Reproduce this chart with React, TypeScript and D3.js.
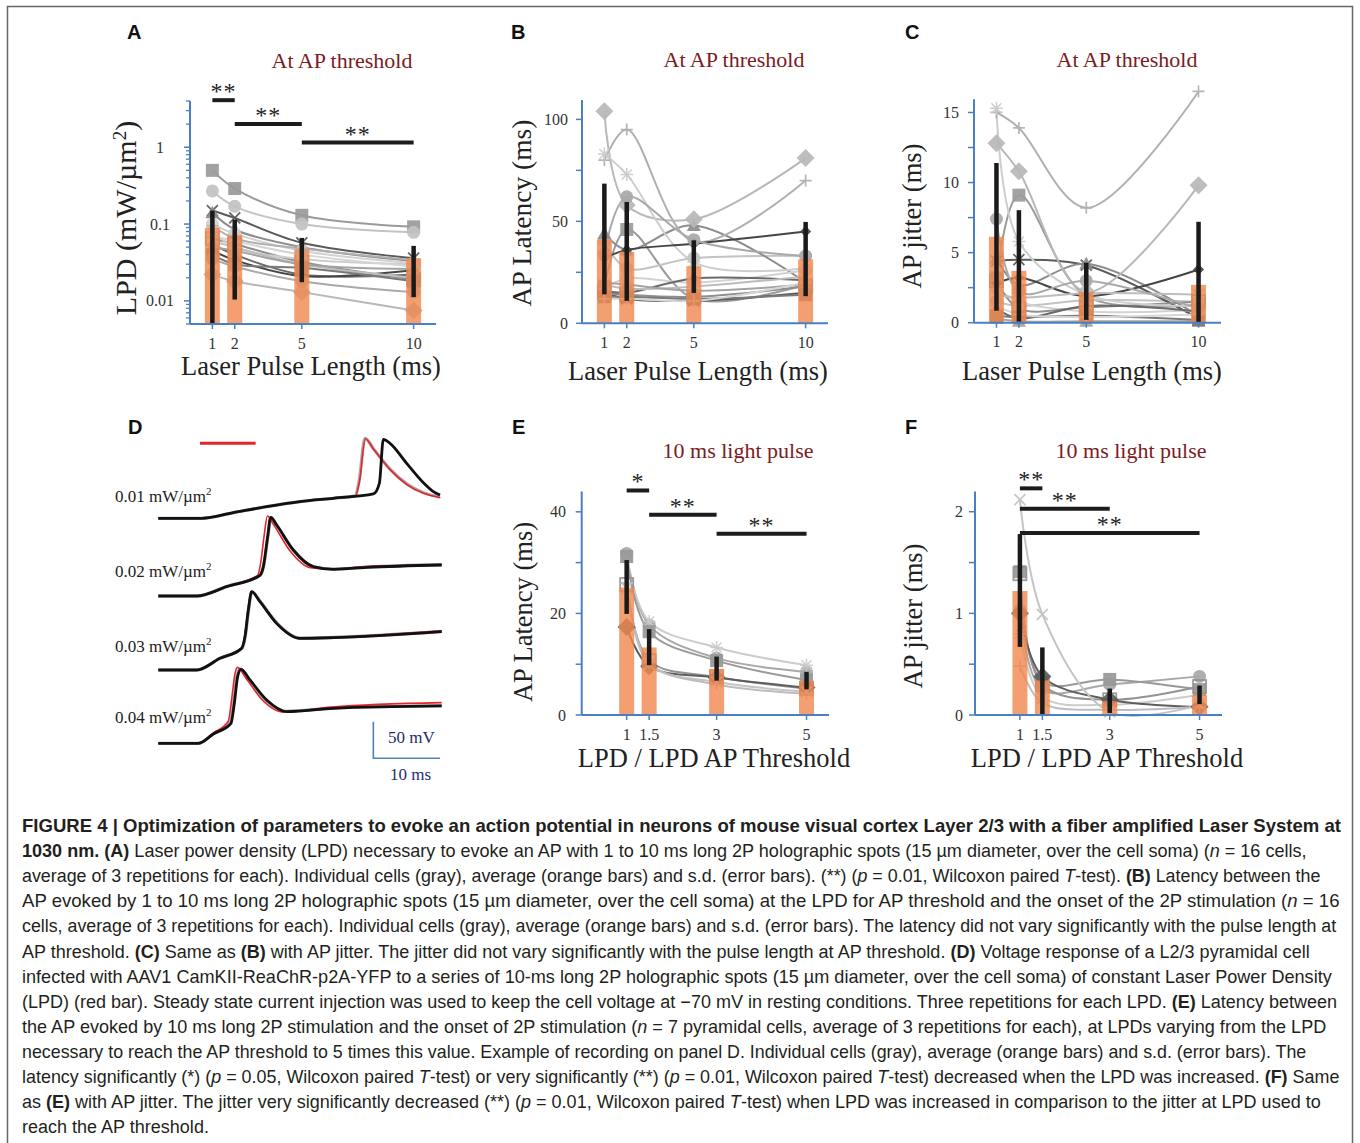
import React, { useLayoutEffect, useRef, useState } from 'react';
import * as d3 from 'd3';

const SERIF = '"Liberation Serif", "Times New Roman", serif';
const SANS = '"Liberation Sans", Arial, Helvetica, sans-serif';
const AXIS_BLUE = '#4a7fc1';
const BAR_ORANGE = '#f1874f';
const ERR_BLACK = '#1a1a1a';
const TITLE_RED = '#7b1b1e';
const TEXT = '#231f20';

// ===== categories =====
const pulseLengths = [1, 2, 5, 10];
const pulseTickLabels = ['1', '2', '5', '10'];
const lpdRatios = [1, 1.5, 3, 5];
const ratioTickLabels = ['1', '1.5', '3', '5'];

// ===== cell marker styles (16 cells, panels A-C) =====
const cellShapes16 = ['square', 'circle', 'x', 'triangle', 'circle', 'plus', 'osquare', 'diamond', 'dot', 'star', 'sdiamond', 'x', 'triangle', 'square', 'circle', 'plus'];
const cellGrays16 = ['#9b9b9b', '#c3c3c3', '#5a5a5a', '#8c8c8c', '#d2d2d2', '#b0b0b0', '#8f8f8f', '#b8b8b8', '#6a6a6a', '#cdcdcd', '#454545', '#bdbdbd', '#a3a3a3', '#7a7a7a', '#a9a9a9', '#d6d6d6'];
// ===== cell marker styles (7 cells, panels E-F) =====
const cellShapes7 = ['circle', 'star', 'square', 'osquare', 'diamond', 'x', 'plus'];
const cellGrays7 = ['#a8a8a8', '#cccccc', '#999999', '#939393', '#5e5e5e', '#c4c4c4', '#bdbdbd'];

// ===== Panel A : LPD at AP threshold (mW/µm²) =====
const lpdTicks = [0.01, 0.1, 1];
const lpdTickLabels = ['0.01', '0.1', '1'];
const lpdMean = [0.09, 0.072, 0.047, 0.036];
const lpdSdLow = [0.005, 0.0104, 0.0175, 0.0112];
const lpdSdHigh = [0.15, 0.114, 0.066, 0.052];
const lpdCells = [
  [0.50, 0.29, 0.13, 0.092],
  [0.27, 0.17, 0.10, 0.078],
  [0.15, 0.12, 0.057, 0.036],
  [0.14, 0.085, 0.05, 0.033],
  [0.10, 0.075, 0.045, 0.031],
  [0.095, 0.065, 0.048, 0.034],
  [0.065, 0.055, 0.032, 0.019],
  [0.022, 0.018, 0.013, 0.0075],
  [0.055, 0.04, 0.022, 0.022],
  [0.08, 0.05, 0.035, 0.030],
  [0.045, 0.034, 0.021, 0.025],
  [0.06, 0.05, 0.030, 0.020],
  [0.05, 0.045, 0.030, 0.026],
  [0.04, 0.03, 0.027, 0.018],
  [0.035, 0.028, 0.018, 0.013],
  [0.07, 0.06, 0.04, 0.028],
];
const lpdSigFrom = [1, 2, 5];
const lpdSigTo = [2, 5, 10];
const lpdSigLevel = [4.1, 2.0, 1.15];
const lpdSigStars = ['**', '**', '**'];

// ===== Panel B : AP latency (ms) =====
const latTicks = [0, 25, 50, 75, 100];
const latTickLabels = ['0', '', '50', '', '100'];
const latMean = [41.2, 35, 28, 31.4];
const latSdLow = [14.2, 11, 14.9, 13.3];
const latSdHigh = [68.5, 59.5, 40.7, 49.7];
const latCells = [
  [18, 46, 12, 19],
  [40, 27, 32, 33],
  [15, 12, 11, 15],
  [44, 36, 48, 20],
  [17, 22, 20, 26],
  [80, 95, 40, 70],
  [15, 14, 13, 18],
  [104, 58, 51, 81],
  [16, 15, 22, 21],
  [83, 73, 30, 27],
  [32, 36, 39, 45],
  [19, 17, 18, 23],
  [20, 19, 16, 19],
  [13, 13, 12, 14],
  [34, 62, 41, 33],
  [12, 12, 11, 20],
];

// ===== Panel C : AP jitter (ms) =====
const jitTicks = [0, 2.5, 5, 7.5, 10, 12.5, 15];
const jitTickLabels = ['0', '', '5', '', '10', '', '15'];
const jitMean = [6.13, 3.7, 2.2, 2.7];
const jitSdLow = [0.86, 0.07, 0.2, 0];
const jitSdHigh = [11.4, 8.03, 4.28, 7.2];
const jitCells = [
  [3.2, 9.1, 1.9, 1.3],
  [1.5, 1.2, 1.6, 1.5],
  [4.4, 4.5, 4.1, 0.3],
  [4.6, 2.7, 4.2, 0.5],
  [2.5, 1.5, 0.8, 0.9],
  [15.0, 13.9, 8.2, 16.5],
  [3.0, 1.0, 1.1, 1.5],
  [12.8, 10.8, 2.2, 9.8],
  [1.0, 0.3, 1.2, 0.8],
  [15.3, 5.8, 2.0, 1.2],
  [2.8, 3.2, 1.9, 3.8],
  [2.0, 1.8, 2.1, 2.0],
  [0.3, 0.1, 0.1, 0.1],
  [0.5, 0.4, 0.5, 0.2],
  [7.4, 2.2, 3.0, 1.0],
  [1.2, 0.6, 0.4, 0.6],
];

// ===== Panel E : latency vs LPD ratio (ms) =====
const latETicks = [0, 10, 20, 30, 40];
const latETickLabels = ['0', '', '20', '', '40'];
const latEMean = [25.1, 13.3, 9.1, 6.75];
const latESdLow = [19.9, 9.8, 6.75, 5.05];
const latESdHigh = [30.5, 16.9, 11.5, 8.5];
const latECells = [
  [31.8, 17.7, 11.2, 8.5],
  [31, 18.4, 13.3, 9.8],
  [31.2, 16.4, 10.7, 6.9],
  [25.7, 10.7, 7.5, 5.2],
  [17.3, 9.6, 7.4, 5.4],
  [25, 10, 6.5, 4.6],
  [26, 10.3, 6, 4.2],
];
const latESigFrom = [1, 1.5, 3];
const latESigTo = [1.5, 3, 5];
const latESigLevel = [44.2, 39.4, 35.7];
const latESigStars = ['*', '**', '**'];

// ===== Panel F : jitter vs LPD ratio (ms) =====
const jitFTicks = [0, 0.5, 1, 1.5, 2];
const jitFTickLabels = ['0', '', '1', '', '2'];
const jitFMean = [1.22, 0.34, 0.136, 0.195];
const jitFSdLow = [0.67, 0, 0.02, 0.107];
const jitFSdHigh = [1.78, 0.665, 0.26, 0.29];
const jitFCells = [
  [1.03, 0.25, 0.3, 0.38],
  [0.8, 0.18, 0.1, 0.2],
  [1.41, 0.33, 0.35, 0.25],
  [1.39, 0.3, 0.15, 0.28],
  [1.0, 0.38, 0.15, 0.08],
  [2.12, 0.99, 0.03, 0.1],
  [0.48, 0.12, 0.05, 0.08],
];
const jitFSigFrom = [1, 1, 1];
const jitFSigTo = [1.5, 3, 5];
const jitFSigLevel = [2.23, 2.03, 1.79];
const jitFSigStars = ['**', '**', '**'];

// ===== Panel D : voltage traces [time ms, membrane mV] =====
const lpdLevelLabels = ['0.01', '0.02', '0.03', '0.04'];
const lightPulseMs = [6.25, 14.6];
const scaleBarMs = 10;
const scaleBarMv = 50;
const traceG1Black = [[0, -70], [6.5, -70], [11.25, -62.3], [16.25, -54.1], [21.25, -47.3], [26.25, -42.7], [32.25, -36.8], [33.15, -22.3], [33.75, 37.7], [34.75, 32.3], [37.25, 5], [39.75, -21.4], [41.25, -33.6], [42.25, -38.2]];
const traceG1Gray = [[0, -70], [6.5, -70], [11.25, -62.3], [16.25, -54.1], [21.25, -47.3], [26.25, -42.7], [29.5, -39.5], [30.1, -20], [31, 39], [32.25, 25], [34.75, -3], [37.25, -23], [39.75, -35], [42.25, -41]];
const traceG1Red = [[0, -70], [6.5, -70], [11.25, -62.1], [16.25, -54.3], [21.25, -47.1], [26.25, -42.9], [29.6, -39.3], [30.2, -18], [31.05, 38.5], [32.3, 24], [34.8, -4], [37.3, -24], [39.8, -36], [42.3, -42]];
const traceG2Black = [[0, -70], [5.75, -70], [10.25, -57.3], [15.25, -41.8], [15.75, -30], [16.4, 10.9], [16.85, 37.3], [17.75, 26.8], [20.25, -7.3], [23.25, -30], [26.25, -33.6], [31.25, -30.9], [42.5, -27.7]];
const traceG2Gray = [[0, -70], [5.75, -70], [10.25, -57], [15.3, -41.5], [15.8, -29], [16.45, 12], [16.9, 37], [17.8, 26], [20.3, -8], [23.3, -30.5], [26.3, -33.4], [31.3, -30.5], [42.5, -27.2]];
const traceG2Red = [[0, -70], [5.75, -70], [10.25, -57], [14.9, -42], [15.3, -28], [15.9, 14], [16.35, 39], [17.3, 27], [19.8, -9], [22.8, -31.5], [26, -33.5], [31, -30], [42.5, -27]];
const traceG3Black = [[0, -70], [5.75, -70], [9.25, -54.1], [12.5, -40.5], [13, -24.5], [13.5, 11.8], [14, 36.8], [15.25, 23.2], [17.75, -6.4], [21.25, -26.8], [26.25, -25.9], [42.5, -17.7]];
const traceG3Gray = [[0, -70], [5.75, -70], [9.3, -53.8], [12.55, -40.2], [13.05, -24], [13.55, 12.3], [14.05, 36.5], [15.3, 23.5], [17.8, -6], [21.3, -26.5], [26.3, -25.5], [42.5, -17.4]];
const traceG3Red = [[0, -70], [5.75, -70], [9.25, -54], [12.45, -40.3], [12.95, -24], [13.45, 12], [13.95, 37], [15.2, 23.4], [17.7, -6.8], [21.2, -27], [26.25, -25.5], [42.5, -16.5]];
const traceG4Black = [[0, -70], [6, -70], [8.25, -57.3], [10.9, -42.7], [11.4, -15.5], [11.9, 20.9], [12.4, 30.9], [13.75, 16.4], [16.25, -10.9], [19.25, -26.8], [26.25, -22.3], [42.5, -19.1]];
const traceG4Gray = [[0, -70], [6, -70], [8.25, -57], [10.8, -42], [11.3, -15], [11.8, 22], [12.3, 31.5], [13.6, 17], [16.1, -11], [19.1, -26.5], [26.25, -22], [42.5, -18.8]];
const traceG4Red = [[0, -70], [6, -70], [8.25, -56], [10.5, -40], [11.0, -10], [11.5, 25], [11.85, 33.6], [13.2, 18], [15.7, -12], [18.7, -27.5], [26, -20.5], [42.5, -14.5]];

// ===== caption =====
type Seg = [string, 'n' | 'b' | 'i'];
const captionLines: Seg[][] = [
  [['FIGURE 4 | Optimization of parameters to evoke an action potential in neurons of mouse visual cortex Layer 2/3 with a fiber amplified Laser System at', 'b']],
  [['1030 nm. (A)', 'b'], [' Laser power density (LPD) necessary to evoke an AP with 1 to 10 ms long 2P holographic spots (15 µm diameter, over the cell soma) (', 'n'], ['n', 'i'], [' = 16 cells,', 'n']],
  [['average of 3 repetitions for each). Individual cells (gray), average (orange bars) and s.d. (error bars). (**) (', 'n'], ['p', 'i'], [' = 0.01, Wilcoxon paired ', 'n'], ['T', 'i'], ['-test). ', 'n'], ['(B)', 'b'], [' Latency between the', 'n']],
  [['AP evoked by 1 to 10 ms long 2P holographic spots (15 µm diameter, over the cell soma) at the LPD for AP threshold and the onset of the 2P stimulation (', 'n'], ['n', 'i'], [' = 16', 'n']],
  [['cells, average of 3 repetitions for each). Individual cells (gray), average (orange bars) and s.d. (error bars). The latency did not vary significantly with the pulse length at', 'n']],
  [['AP threshold. ', 'n'], ['(C)', 'b'], [' Same as ', 'n'], ['(B)', 'b'], [' with AP jitter. The jitter did not vary significantly with the pulse length at AP threshold. ', 'n'], ['(D)', 'b'], [' Voltage response of a L2/3 pyramidal cell', 'n']],
  [['infected with AAV1 CamKII-ReaChR-p2A-YFP to a series of 10-ms long 2P holographic spots (15 µm diameter, over the cell soma) of constant Laser Power Density', 'n']],
  [['(LPD) (red bar). Steady state current injection was used to keep the cell voltage at \u221270 mV in resting conditions. Three repetitions for each LPD. ', 'n'], ['(E)', 'b'], [' Latency between', 'n']],
  [['the AP evoked by 10 ms long 2P stimulation and the onset of 2P stimulation (', 'n'], ['n', 'i'], [' = 7 pyramidal cells, average of 3 repetitions for each), at LPDs varying from the LPD', 'n']],
  [['necessary to reach the AP threshold to 5 times this value. Example of recording on panel D. Individual cells (gray), average (orange bars) and s.d. (error bars). The', 'n']],
  [['latency significantly (*) (', 'n'], ['p', 'i'], [' = 0.05, Wilcoxon paired ', 'n'], ['T', 'i'], ['-test) or very significantly (**) (', 'n'], ['p', 'i'], [' = 0.01, Wilcoxon paired ', 'n'], ['T', 'i'], ['-test) decreased when the LPD was increased. ', 'n'], ['(F)', 'b'], [' Same', 'n']],
  [['as ', 'n'], ['(E)', 'b'], [' with AP jitter. The jitter very significantly decreased (**) (', 'n'], ['p', 'i'], [' = 0.01, Wilcoxon paired ', 'n'], ['T', 'i'], ['-test) when LPD was increased in comparison to the jitter at LPD used to', 'n']],
  [['reach the AP threshold.', 'n']],
];
const captionLineEnds = [1342, 1308, 1321, 1340, 1337, 1310, 1333, 1337, 1328, 1307, 1340, 1322, 209];

// ---------- drawing helpers ----------
function Marker({ shape, cx, cy, color }: { shape: string; cx: number; cy: number; color: string }) {
  const s = 6.5;
  switch (shape) {
    case 'square':
      return <rect x={cx - s} y={cy - s} width={2 * s} height={2 * s} fill={color} />;
    case 'osquare':
      return <rect x={cx - s} y={cy - s} width={2 * s} height={2 * s} fill="none" stroke={color} strokeWidth={1.8} />;
    case 'circle':
      return <circle cx={cx} cy={cy} r={6.5} fill={color} />;
    case 'dot':
      return <circle cx={cx} cy={cy} r={3.5} fill={color} />;
    case 'diamond': {
      const d = 9;
      return <path d={`M${cx},${cy - d}L${cx + d},${cy}L${cx},${cy + d}L${cx - d},${cy}Z`} fill={color} />;
    }
    case 'sdiamond': {
      const d = 5.5;
      return <path d={`M${cx},${cy - d}L${cx + d},${cy}L${cx},${cy + d}L${cx - d},${cy}Z`} fill={color} />;
    }
    case 'triangle':
      return <path d={`M${cx},${cy - 7}L${cx + 7},${cy + 5.5}L${cx - 7},${cy + 5.5}Z`} fill={color} />;
    case 'x':
      return (
        <path d={`M${cx - 5.5},${cy - 5.5}L${cx + 5.5},${cy + 5.5}M${cx - 5.5},${cy + 5.5}L${cx + 5.5},${cy - 5.5}`} stroke={color} strokeWidth={1.8} />
      );
    case 'plus':
      return <path d={`M${cx - 6},${cy}L${cx + 6},${cy}M${cx},${cy - 6}L${cx},${cy + 6}`} stroke={color} strokeWidth={1.7} />;
    case 'star':
      return (
        <path
          d={`M${cx - 5},${cy - 5}L${cx + 5},${cy + 5}M${cx - 5},${cy + 5}L${cx + 5},${cy - 5}M${cx - 6.5},${cy}L${cx + 6.5},${cy}M${cx},${cy - 6.5}L${cx},${cy + 6.5}`}
          stroke={color}
          strokeWidth={1.5}
        />
      );
    default:
      return null;
  }
}

function DataLayer({ xS, yS, xs, cells, shapes, grays, mean, lo, hi, barBottom }: any) {
  const line = d3
    .line<number[]>()
    .x((d) => xS(d[0]))
    .y((d) => yS(d[1]))
    .curve(d3.curveCatmullRom.alpha(0.5));
  return (
    <g>
      {cells.map((vals: number[], i: number) => (
        <path key={'l' + i} d={line(xs.map((xv: number, j: number) => [xv, vals[j]])) || ''} fill="none" stroke={grays[i]} strokeWidth={2} />
      ))}
      {cells.map((vals: number[], i: number) => (
        <g key={'m' + i} opacity={0.92}>
          {vals.map((v, j) => (
            <Marker key={j} shape={shapes[i]} cx={xS(xs[j])} cy={yS(v)} color={grays[i]} />
          ))}
        </g>
      ))}
      {xs.map((xv: number, j: number) => (
        <rect key={'b' + j} x={xS(xv) - 7.5} y={yS(mean[j])} width={15} height={yS(barBottom) - yS(mean[j])} fill={BAR_ORANGE} opacity={0.8} />
      ))}
      {xs.map((xv: number, j: number) => (
        <line key={'e' + j} x1={xS(xv)} x2={xS(xv)} y1={yS(lo[j])} y2={yS(hi[j])} stroke={ERR_BLACK} strokeWidth={4.5} />
      ))}
    </g>
  );
}

function Axes({ xS, yS, xTicks, xLabels, yMajor, yLabels, yMinor, labelX, labelAnchor }: any) {
  const [x0, x1] = xS.range();
  const [yb, yt] = yS.range();
  return (
    <g>
      <line x1={x0} x2={x0} y1={yt} y2={yb} stroke={AXIS_BLUE} strokeWidth={2} />
      <line x1={x0} x2={x1} y1={yb} y2={yb} stroke={AXIS_BLUE} strokeWidth={2} />
      {(yMinor || []).map((t: number, i: number) => (
        <line key={'ym' + i} x1={x0 - 4} x2={x0} y1={yS(t)} y2={yS(t)} stroke={AXIS_BLUE} strokeWidth={1.3} />
      ))}
      {yMajor.map((t: number, i: number) => (
        <line key={'yt' + i} x1={x0 - 6} x2={x0} y1={yS(t)} y2={yS(t)} stroke={AXIS_BLUE} strokeWidth={1.5} />
      ))}
      {yMajor.map((t: number, i: number) =>
        yLabels[i] ? (
          <text key={'yl' + i} x={labelX} y={yS(t)} dy="0.35em" textAnchor={labelAnchor} fontFamily={SERIF} fontSize={16} fill="#333">
            {yLabels[i]}
          </text>
        ) : null
      )}
      {xTicks.map((t: number, i: number) => (
        <line key={'xt' + i} x1={xS(t)} x2={xS(t)} y1={yb} y2={yb + 5} stroke={AXIS_BLUE} strokeWidth={1.5} />
      ))}
      {xTicks.map((t: number, i: number) => (
        <text key={'xl' + i} x={xS(t)} y={yb + 19} dy="0.35em" textAnchor="middle" fontFamily={SERIF} fontSize={16} fill="#333">
          {xLabels[i]}
        </text>
      ))}
    </g>
  );
}

function SigBars({ xS, yS, from, to, level, stars }: any) {
  return (
    <g>
      {from.map((f: number, i: number) => {
        const xa = xS(f);
        const xb = xS(to[i]);
        const y = yS(level[i]);
        return (
          <g key={i}>
            <line x1={xa} x2={xb} y1={y} y2={y} stroke="#1c1c1c" strokeWidth={4} />
            <text x={(xa + xb) / 2} y={y - 1} textAnchor="middle" fontFamily={SERIF} fontSize={24} fill="#222" letterSpacing={1}>
              {stars[i]}
            </text>
          </g>
        );
      })}
    </g>
  );
}

function PanelLetter({ x, y, t }: any) {
  return (
    <text x={x} y={y} fontFamily={SANS} fontWeight="bold" fontSize={20} fill="#111">
      {t}
    </text>
  );
}

function Title({ x, y, t }: any) {
  return (
    <text x={x} y={y} textAnchor="middle" fontFamily={SERIF} fontSize={22} fill={TITLE_RED}>
      {t}
    </text>
  );
}

function XLabel({ x, y, t }: any) {
  return (
    <text x={x} y={y} textAnchor="middle" fontFamily={SERIF} fontSize={26.5} fill="#222">
      {t}
    </text>
  );
}

function YLabel({ x, y, size, children }: any) {
  return (
    <text transform={`translate(${x},${y}) rotate(-90)`} textAnchor="middle" dy="0.35em" fontFamily={SERIF} fontSize={size || 26.5} fill="#222">
      {children}
    </text>
  );
}

function CaptionLine({ segs, x, y, end }: { segs: Seg[]; x: number; y: number; end: number }) {
  const ref = useRef<SVGTextElement>(null);
  const [sx, setSx] = useState(1);
  useLayoutEffect(() => {
    if (ref.current) {
      const w = ref.current.getComputedTextLength();
      if (w > 0) setSx((end - x) / w);
    }
  }, [end, x]);
  return (
    <g transform={`translate(${x},${y}) scale(${sx},1)`}>
      <text ref={ref} x={0} y={0} fontFamily={SANS} fontSize={18} fill={TEXT}>
        {segs.map(([s, st], k) => (
          <tspan key={k} fontWeight={st === 'b' ? 'bold' : 'normal'} fontStyle={st === 'i' ? 'italic' : 'normal'}>
            {s}
          </tspan>
        ))}
      </text>
    </g>
  );
}

function PanelD() {
  const tS = d3.scaleLinear().domain([0, 42.5]).range([158.3, 441.7]);
  const pxPerMv = 0.7333;
  const baselines = [518.3, 596, 670, 743.3];
  const groups = [
    [traceG1Gray, traceG1Red, traceG1Black],
    [traceG2Gray, traceG2Red, traceG2Black],
    [traceG3Gray, traceG3Red, traceG3Black],
    [traceG4Gray, traceG4Red, traceG4Black],
  ];
  const labelBaselines = [501.7, 576.7, 652.3, 723.3];
  const colors = ['#a9a9a9', '#e8232b', '#111111'];
  const widths = [3.2, 1.6, 2.8];
  const sbX = tS(32.25);
  const sbY = 758.3;
  return (
    <g>
      <line x1={tS(lightPulseMs[0])} x2={tS(lightPulseMs[1])} y1={443.3} y2={443.3} stroke="#e8232b" strokeWidth={3} />
      {groups.map((g, gi) => {
        const vS = d3
          .scaleLinear()
          .domain([-70, 50])
          .range([baselines[gi], baselines[gi] - 120 * pxPerMv]);
        const line = d3
          .line<number[]>()
          .x((d) => tS(d[0]))
          .y((d) => vS(d[1]))
          .curve(d3.curveMonotoneX);
        return (
          <g key={gi}>
            {g.map((tr, k) => (
              <path key={k} d={line(tr) || ''} fill="none" stroke={colors[k]} strokeWidth={widths[k]} strokeLinejoin="round" />
            ))}
            <text x={115} y={labelBaselines[gi]} fontFamily={SERIF} fontSize={17} fill="#222">
              {lpdLevelLabels[gi]} mW/µm<tspan dy={-7} fontSize={11}>2</tspan>
            </text>
          </g>
        );
      })}
      <path
        d={`M${sbX},${sbY - scaleBarMv * pxPerMv}L${sbX},${sbY}L${sbX + (tS(scaleBarMs) - tS(0))},${sbY}`}
        fill="none"
        stroke="#4f81bd"
        strokeWidth={1.6}
      />
      <text x={388} y={743.3} fontFamily={SERIF} fontSize={17} fill="#1e2d6b">
        {scaleBarMv} mV
      </text>
      <text x={390} y={780} fontFamily={SERIF} fontSize={17} fill="#1e2d6b">
        {scaleBarMs} ms
      </text>
    </g>
  );
}

export default function App() {
  // Panel scales
  const xA = d3.scaleLinear().domain([0, 11]).range([190, 436]);
  const yA = d3.scaleLog().domain([0.005, 4]).range([324, 101]);
  const xB = d3.scaleLinear().domain([0, 11]).range([582, 828]);
  const yB = d3.scaleLinear().domain([0, 109.5]).range([323.3, 100]);
  const xC = d3.scaleLinear().domain([0, 11]).range([974, 1221]);
  const yC = d3.scaleLinear().domain([0, 15.94]).range([322.7, 99.3]);
  const xE = d3.scaleLinear().domain([0, 5.5]).range([581.7, 829]);
  const yE = d3.scaleLinear().domain([0, 44]).range([715, 491.5]);
  const xF = d3.scaleLinear().domain([0, 5.5]).range([975, 1222]);
  const yF = d3.scaleLinear().domain([0, 2.2]).range([715, 491.4]);

  const lpdMinor = yA.ticks().filter((t: number) => !lpdTicks.some((m) => Math.abs(m - t) < 1e-9));

  return (
    <div style={{ position: 'absolute', left: 0, top: 0, width: 1360, height: 1143, background: '#fff' }}>
      <svg width={1360} height={1143} viewBox="0 0 1360 1143" style={{ display: 'block' }}>
        <rect x={0} y={0} width={1360} height={1143} fill="#fff" />
        <rect x={7.5} y={6.5} width={1345} height={1160} fill="none" stroke="#666" strokeWidth={1.5} />

        {/* Panel A */}
        <PanelLetter x={127} y={39} t="A" />
        <Title x={342} y={68} t="At AP threshold" />
        <DataLayer xS={xA} yS={yA} xs={pulseLengths} cells={lpdCells} shapes={cellShapes16} grays={cellGrays16} mean={lpdMean} lo={lpdSdLow} hi={lpdSdHigh} barBottom={0.005} />
        <Axes xS={xA} yS={yA} xTicks={pulseLengths} xLabels={pulseTickLabels} yMajor={lpdTicks} yLabels={lpdTickLabels} yMinor={lpdMinor} labelX={160} labelAnchor="middle" />
        <SigBars xS={xA} yS={yA} from={lpdSigFrom} to={lpdSigTo} level={lpdSigLevel} stars={lpdSigStars} />
        <XLabel x={311} y={375} t="Laser Pulse Length (ms)" />
        <YLabel x={125} y={218} size={30}>
          LPD (mW/µm<tspan dy={-10} fontSize={19}>2</tspan>
          <tspan dy={10}>)</tspan>
        </YLabel>

        {/* Panel B */}
        <PanelLetter x={511} y={39} t="B" />
        <Title x={734} y={67} t="At AP threshold" />
        <DataLayer xS={xB} yS={yB} xs={pulseLengths} cells={latCells} shapes={cellShapes16} grays={cellGrays16} mean={latMean} lo={latSdLow} hi={latSdHigh} barBottom={0} />
        <Axes xS={xB} yS={yB} xTicks={pulseLengths} xLabels={pulseTickLabels} yMajor={latTicks} yLabels={latTickLabels} labelX={568} labelAnchor="end" />
        <XLabel x={698} y={380} t="Laser Pulse Length (ms)" />
        <YLabel x={521} y={213} size={27.5}>AP Latency (ms)</YLabel>

        {/* Panel C */}
        <PanelLetter x={905} y={39} t="C" />
        <Title x={1127} y={67} t="At AP threshold" />
        <DataLayer xS={xC} yS={yC} xs={pulseLengths} cells={jitCells} shapes={cellShapes16} grays={cellGrays16} mean={jitMean} lo={jitSdLow} hi={jitSdHigh} barBottom={0} />
        <Axes xS={xC} yS={yC} xTicks={pulseLengths} xLabels={pulseTickLabels} yMajor={jitTicks} yLabels={jitTickLabels} labelX={959} labelAnchor="end" />
        <XLabel x={1092} y={380} t="Laser Pulse Length (ms)" />
        <YLabel x={912} y={216}>AP jitter (ms)</YLabel>

        {/* Panel D */}
        <PanelLetter x={128} y={434} t="D" />
        <PanelD />

        {/* Panel E */}
        <PanelLetter x={512} y={434} t="E" />
        <Title x={738} y={458} t="10 ms light pulse" />
        <DataLayer xS={xE} yS={yE} xs={lpdRatios} cells={latECells} shapes={cellShapes7} grays={cellGrays7} mean={latEMean} lo={latESdLow} hi={latESdHigh} barBottom={0} />
        <Axes xS={xE} yS={yE} xTicks={lpdRatios} xLabels={ratioTickLabels} yMajor={latETicks} yLabels={latETickLabels} labelX={566} labelAnchor="end" />
        <SigBars xS={xE} yS={yE} from={latESigFrom} to={latESigTo} level={latESigLevel} stars={latESigStars} />
        <XLabel x={714} y={767} t="LPD / LPD AP Threshold" />
        <YLabel x={523} y={612}>AP Latency (ms)</YLabel>

        {/* Panel F */}
        <PanelLetter x={905} y={434} t="F" />
        <Title x={1131} y={458} t="10 ms light pulse" />
        <DataLayer xS={xF} yS={yF} xs={lpdRatios} cells={jitFCells} shapes={cellShapes7} grays={cellGrays7} mean={jitFMean} lo={jitFSdLow} hi={jitFSdHigh} barBottom={0} />
        <Axes xS={xF} yS={yF} xTicks={lpdRatios} xLabels={ratioTickLabels} yMajor={jitFTicks} yLabels={jitFTickLabels} labelX={963} labelAnchor="end" />
        <SigBars xS={xF} yS={yF} from={jitFSigFrom} to={jitFSigTo} level={jitFSigLevel} stars={jitFSigStars} />
        <XLabel x={1107} y={767} t="LPD / LPD AP Threshold" />
        <YLabel x={913} y={616}>AP jitter (ms)</YLabel>

        {/* Caption */}
        {captionLines.map((segs, i) => (
          <CaptionLine key={i} segs={segs} x={22} y={832 + i * 25.1} end={captionLineEnds[i]} />
        ))}
      </svg>
    </div>
  );
}
